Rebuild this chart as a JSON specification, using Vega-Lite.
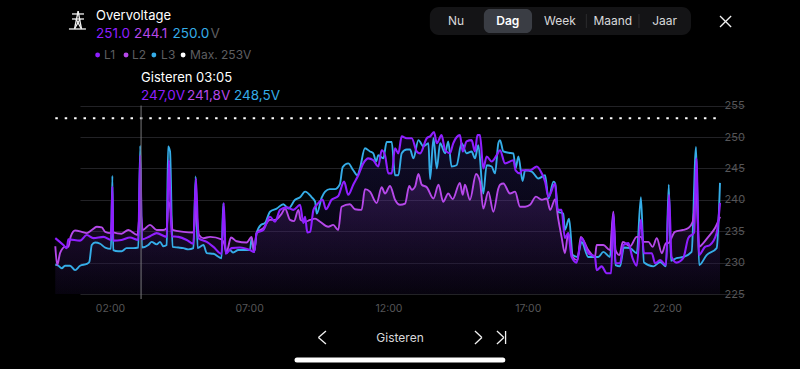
{"$schema":"https://vega.github.io/schema/vega-lite/v6.json","width":800,"height":369,"autosize":"none","padding":0,"background":"#000000",
"config":{"view":{"stroke":null},"font":"Inter","text":{"font":"Inter"}},
"datasets":{
"volts":[
{"series":"L2","hour":0,"volt":232.6},{"series":"L2","hour":0.07,"volt":229.6},{"series":"L2","hour":0.17,"volt":231.5},{"series":"L2","hour":0.35,"volt":232.5},{"series":"L2","hour":0.47,"volt":232.5},{"series":"L2","hour":0.55,"volt":234.1},{"series":"L2","hour":0.71,"volt":235.1},{"series":"L2","hour":0.95,"volt":234.9},{"series":"L2","hour":1.13,"volt":234.7},{"series":"L2","hour":1.31,"volt":235.2},{"series":"L2","hour":1.49,"volt":235.7},{"series":"L2","hour":1.67,"volt":235.6},{"series":"L2","hour":1.79,"volt":234.9},{"series":"L2","hour":2.0,"volt":234.7},{"series":"L2","hour":2.05,"volt":237.3},{"series":"L2","hour":2.08,"volt":234.8},{"series":"L2","hour":2.38,"volt":234.6},{"series":"L2","hour":2.62,"volt":235.2},{"series":"L2","hour":2.95,"volt":234.4},{"series":"L2","hour":3.05,"volt":238.4},{"series":"L2","hour":3.14,"volt":235.2},{"series":"L2","hour":3.4,"volt":236.0},{"series":"L2","hour":3.64,"volt":235.2},{"series":"L2","hour":3.88,"volt":235.2},{"series":"L2","hour":4.0,"volt":235.5},{"series":"L2","hour":4.06,"volt":239.7},{"series":"L2","hour":4.14,"volt":238.4},{"series":"L2","hour":4.21,"volt":235.2},{"series":"L2","hour":4.6,"volt":234.9},{"series":"L2","hour":4.96,"volt":234.8},{"series":"L2","hour":5.05,"volt":238.4},{"series":"L2","hour":5.16,"volt":234.4},{"series":"L2","hour":5.32,"volt":233.9},{"series":"L2","hour":5.56,"volt":234.1},{"series":"L2","hour":5.97,"volt":233.7},{"series":"L2","hour":6.06,"volt":233.1},{"series":"L2","hour":6.15,"volt":231.7},{"series":"L2","hour":6.31,"volt":234.0},{"series":"L2","hour":6.51,"volt":233.4},{"series":"L2","hour":6.87,"volt":233.2},{"series":"L2","hour":7.05,"volt":234.1},{"series":"L2","hour":7.14,"volt":231.7},{"series":"L2","hour":7.23,"volt":234.7},{"series":"L2","hour":7.47,"volt":235.5},{"series":"L2","hour":7.71,"volt":236.8},{"series":"L2","hour":7.89,"volt":236.8},{"series":"L2","hour":8.13,"volt":237.8},{"series":"L2","hour":8.25,"volt":238.6},{"series":"L2","hour":8.43,"volt":236.8},{"series":"L2","hour":8.57,"volt":236.6},{"series":"L2","hour":8.73,"volt":238.4},{"series":"L2","hour":8.81,"volt":236.8},{"series":"L2","hour":8.97,"volt":236.5},{"series":"L2","hour":9.15,"volt":236.8},{"series":"L2","hour":9.33,"volt":237.0},{"series":"L2","hour":9.51,"volt":236.5},{"series":"L2","hour":9.8,"volt":235.7},{"series":"L2","hour":9.98,"volt":236.0},{"series":"L2","hour":10.16,"volt":235.2},{"series":"L2","hour":10.28,"volt":238.9},{"series":"L2","hour":10.58,"volt":239.3},{"series":"L2","hour":10.76,"volt":238.5},{"series":"L2","hour":11.0,"volt":238.4},{"series":"L2","hour":11.12,"volt":241.7},{"series":"L2","hour":11.3,"volt":241.3},{"series":"L2","hour":11.54,"volt":239.5},{"series":"L2","hour":11.72,"volt":242.0},{"series":"L2","hour":11.84,"volt":241.0},{"series":"L2","hour":12.02,"volt":242.2},{"series":"L2","hour":12.2,"volt":240.0},{"series":"L2","hour":12.38,"volt":239.2},{"series":"L2","hour":12.56,"volt":239.4},{"series":"L2","hour":12.71,"volt":242.2},{"series":"L2","hour":12.8,"volt":241.6},{"series":"L2","hour":12.92,"volt":242.1},{"series":"L2","hour":13.04,"volt":244.1},{"series":"L2","hour":13.16,"volt":242.4},{"series":"L2","hour":13.34,"volt":242.0},{"series":"L2","hour":13.58,"volt":240.2},{"series":"L2","hour":13.76,"volt":242.4},{"series":"L2","hour":13.93,"volt":239.7},{"series":"L2","hour":14.11,"volt":241.0},{"series":"L2","hour":14.27,"volt":240.1},{"series":"L2","hour":14.53,"volt":242.7},{"series":"L2","hour":14.63,"volt":240.8},{"series":"L2","hour":14.71,"volt":242.4},{"series":"L2","hour":14.89,"volt":240.0},{"series":"L2","hour":15.11,"volt":244.1},{"series":"L2","hour":15.25,"volt":242.9},{"series":"L2","hour":15.37,"volt":238.6},{"series":"L2","hour":15.55,"volt":241.3},{"series":"L2","hour":15.73,"volt":238.1},{"series":"L2","hour":15.91,"volt":241.8},{"series":"L2","hour":15.97,"volt":242.4},{"series":"L2","hour":16.09,"volt":242.6},{"series":"L2","hour":16.33,"volt":241.0},{"series":"L2","hour":16.51,"volt":241.3},{"series":"L2","hour":16.69,"volt":238.9},{"series":"L2","hour":16.87,"volt":238.9},{"series":"L2","hour":17.05,"volt":239.2},{"series":"L2","hour":17.26,"volt":240.5},{"series":"L2","hour":17.47,"volt":240.0},{"series":"L2","hour":17.65,"volt":240.2},{"series":"L2","hour":17.77,"volt":238.4},{"series":"L2","hour":17.95,"volt":240.1},{"series":"L2","hour":18.06,"volt":237.0},{"series":"L2","hour":18.18,"volt":234.1},{"series":"L2","hour":18.3,"volt":231.5},{"series":"L2","hour":18.42,"volt":234.7},{"series":"L2","hour":18.58,"volt":230.9},{"series":"L2","hour":18.75,"volt":230.4},{"series":"L2","hour":18.87,"volt":234.1},{"series":"L2","hour":19.14,"volt":232.0},{"series":"L2","hour":19.38,"volt":230.9},{"series":"L2","hour":19.44,"volt":232.8},{"series":"L2","hour":19.68,"volt":232.8},{"series":"L2","hour":19.92,"volt":232.0},{"series":"L2","hour":20.04,"volt":238.1},{"series":"L2","hour":20.12,"volt":232.0},{"series":"L2","hour":20.26,"volt":231.2},{"series":"L2","hour":20.38,"volt":233.3},{"series":"L2","hour":20.64,"volt":232.6},{"series":"L2","hour":20.88,"volt":234.1},{"series":"L2","hour":21.03,"volt":234.1},{"series":"L2","hour":21.14,"volt":233.3},{"series":"L2","hour":21.3,"volt":233.3},{"series":"L2","hour":21.45,"volt":232.5},{"series":"L2","hour":21.6,"volt":233.9},{"series":"L2","hour":21.78,"volt":231.5},{"series":"L2","hour":21.93,"volt":233.1},{"series":"L2","hour":22.01,"volt":233.1},{"series":"L2","hour":22.25,"volt":234.9},{"series":"L2","hour":22.55,"volt":235.2},{"series":"L2","hour":22.73,"volt":235.5},{"series":"L2","hour":22.89,"volt":236.5},{"series":"L2","hour":23.02,"volt":241.0},{"series":"L2","hour":23.12,"volt":232.5},{"series":"L2","hour":23.27,"volt":233.1},{"series":"L2","hour":23.45,"volt":234.1},{"series":"L2","hour":23.69,"volt":235.5},{"series":"L2","hour":23.87,"volt":237.3},
{"series":"L3","hour":0,"volt":229.7},{"series":"L3","hour":0.11,"volt":229.5},{"series":"L3","hour":0.23,"volt":229.1},{"series":"L3","hour":0.35,"volt":229.5},{"series":"L3","hour":0.53,"volt":229.5},{"series":"L3","hour":0.71,"volt":228.8},{"series":"L3","hour":0.89,"volt":229.5},{"series":"L3","hour":1.13,"volt":229.8},{"series":"L3","hour":1.22,"volt":230.1},{"series":"L3","hour":1.31,"volt":232.8},{"series":"L3","hour":1.43,"volt":233.2},{"series":"L3","hour":1.61,"volt":233.0},{"series":"L3","hour":1.79,"volt":232.4},{"series":"L3","hour":2.0,"volt":232.2},{"series":"L3","hour":2.05,"volt":243.8},{"series":"L3","hour":2.08,"volt":232.0},{"series":"L3","hour":2.26,"volt":231.8},{"series":"L3","hour":2.38,"volt":231.8},{"series":"L3","hour":2.56,"volt":232.3},{"series":"L3","hour":2.8,"volt":232.3},{"series":"L3","hour":2.98,"volt":232.4},{"series":"L3","hour":3.05,"volt":248.6},{"series":"L3","hour":3.11,"volt":232.4},{"series":"L3","hour":3.34,"volt":232.8},{"series":"L3","hour":3.46,"volt":233.3},{"series":"L3","hour":3.64,"volt":232.9},{"series":"L3","hour":3.76,"volt":233.3},{"series":"L3","hour":3.88,"volt":232.6},{"series":"L3","hour":4.0,"volt":232.8},{"series":"L3","hour":4.05,"volt":248.5},{"series":"L3","hour":4.12,"volt":247.7},{"series":"L3","hour":4.21,"volt":232.5},{"series":"L3","hour":4.42,"volt":232.4},{"series":"L3","hour":4.6,"volt":232.3},{"series":"L3","hour":4.78,"volt":232.1},{"series":"L3","hour":4.96,"volt":232.3},{"series":"L3","hour":5.04,"volt":243.7},{"series":"L3","hour":5.11,"volt":232.3},{"series":"L3","hour":5.32,"volt":232.8},{"series":"L3","hour":5.44,"volt":231.5},{"series":"L3","hour":5.68,"volt":231.4},{"series":"L3","hour":5.97,"volt":230.7},{"series":"L3","hour":6.03,"volt":239.4},{"series":"L3","hour":6.12,"volt":231.5},{"series":"L3","hour":6.27,"volt":232.0},{"series":"L3","hour":6.39,"volt":231.6},{"series":"L3","hour":6.57,"volt":232.0},{"series":"L3","hour":6.87,"volt":232.0},{"series":"L3","hour":6.99,"volt":232.0},{"series":"L3","hour":7.05,"volt":233.9},{"series":"L3","hour":7.14,"volt":231.7},{"series":"L3","hour":7.23,"volt":234.7},{"series":"L3","hour":7.38,"volt":236.0},{"series":"L3","hour":7.53,"volt":236.3},{"series":"L3","hour":7.71,"volt":238.1},{"series":"L3","hour":7.95,"volt":238.6},{"series":"L3","hour":8.19,"volt":239.3},{"series":"L3","hour":8.37,"volt":238.6},{"series":"L3","hour":8.61,"volt":240.0},{"series":"L3","hour":8.79,"volt":240.4},{"series":"L3","hour":8.97,"volt":241.3},{"series":"L3","hour":9.21,"volt":240.4},{"series":"L3","hour":9.33,"volt":239.7},{"series":"L3","hour":9.39,"volt":237.8},{"series":"L3","hour":9.57,"volt":240.4},{"series":"L3","hour":9.69,"volt":241.3},{"series":"L3","hour":9.86,"volt":241.7},{"series":"L3","hour":10.04,"volt":241.7},{"series":"L3","hour":10.22,"volt":242.5},{"series":"L3","hour":10.32,"volt":245.2},{"series":"L3","hour":10.52,"volt":245.8},{"series":"L3","hour":10.7,"volt":244.7},{"series":"L3","hour":10.85,"volt":243.9},{"series":"L3","hour":10.94,"volt":245.0},{"series":"L3","hour":11.12,"volt":248.2},{"series":"L3","hour":11.3,"volt":247.7},{"series":"L3","hour":11.42,"volt":247.4},{"series":"L3","hour":11.52,"volt":246.1},{"series":"L3","hour":11.6,"volt":247.1},{"series":"L3","hour":11.78,"volt":246.6},{"series":"L3","hour":11.9,"volt":249.2},{"series":"L3","hour":12.08,"volt":249.2},{"series":"L3","hour":12.2,"volt":243.9},{"series":"L3","hour":12.32,"volt":243.9},{"series":"L3","hour":12.44,"volt":247.4},{"series":"L3","hour":12.62,"volt":248.0},{"series":"L3","hour":12.74,"volt":248.0},{"series":"L3","hour":12.86,"volt":246.6},{"series":"L3","hour":13.04,"volt":249.5},{"series":"L3","hour":13.22,"volt":248.5},{"series":"L3","hour":13.4,"volt":249.0},{"series":"L3","hour":13.46,"volt":243.3},{"series":"L3","hour":13.58,"volt":249.8},{"series":"L3","hour":13.7,"volt":245.0},{"series":"L3","hour":13.82,"volt":249.0},{"series":"L3","hour":14.0,"volt":247.4},{"series":"L3","hour":14.11,"volt":249.3},{"series":"L3","hour":14.23,"volt":245.3},{"series":"L3","hour":14.41,"volt":245.5},{"series":"L3","hour":14.59,"volt":249.0},{"series":"L3","hour":14.77,"volt":247.4},{"series":"L3","hour":14.95,"volt":247.7},{"series":"L3","hour":15.07,"volt":246.6},{"series":"L3","hour":15.19,"volt":248.7},{"series":"L3","hour":15.37,"volt":241.0},{"series":"L3","hour":15.49,"volt":245.5},{"series":"L3","hour":15.67,"volt":245.3},{"series":"L3","hour":15.79,"volt":244.2},{"series":"L3","hour":15.91,"volt":249.0},{"series":"L3","hour":15.97,"volt":249.5},{"series":"L3","hour":16.09,"volt":247.7},{"series":"L3","hour":16.27,"volt":247.5},{"series":"L3","hour":16.45,"volt":247.4},{"series":"L3","hour":16.53,"volt":245.0},{"series":"L3","hour":16.63,"volt":246.9},{"series":"L3","hour":16.78,"volt":243.0},{"series":"L3","hour":16.87,"volt":244.7},{"series":"L3","hour":17.11,"volt":244.5},{"series":"L3","hour":17.35,"volt":243.4},{"series":"L3","hour":17.59,"volt":243.9},{"series":"L3","hour":17.71,"volt":240.2},{"series":"L3","hour":17.89,"volt":242.9},{"series":"L3","hour":17.95,"volt":242.6},{"series":"L3","hour":18.06,"volt":238.1},{"series":"L3","hour":18.24,"volt":237.8},{"series":"L3","hour":18.3,"volt":235.2},{"series":"L3","hour":18.45,"volt":237.0},{"series":"L3","hour":18.58,"volt":231.2},{"series":"L3","hour":18.75,"volt":230.9},{"series":"L3","hour":18.9,"volt":233.3},{"series":"L3","hour":19.14,"volt":230.9},{"series":"L3","hour":19.5,"volt":230.9},{"series":"L3","hour":19.68,"volt":231.7},{"series":"L3","hour":19.92,"volt":230.9},{"series":"L3","hour":20.04,"volt":237.6},{"series":"L3","hour":20.12,"volt":229.6},{"series":"L3","hour":20.28,"volt":229.4},{"series":"L3","hour":20.42,"volt":232.4},{"series":"L3","hour":20.64,"volt":232.3},{"series":"L3","hour":20.88,"volt":231.5},{"series":"L3","hour":21.03,"volt":240.4},{"series":"L3","hour":21.14,"volt":230.0},{"series":"L3","hour":21.48,"volt":229.4},{"series":"L3","hour":21.72,"volt":230.1},{"series":"L3","hour":21.93,"volt":229.4},{"series":"L3","hour":22.03,"volt":242.4},{"series":"L3","hour":22.11,"volt":230.3},{"series":"L3","hour":22.31,"volt":230.7},{"series":"L3","hour":22.55,"volt":230.9},{"series":"L3","hour":22.85,"volt":231.7},{"series":"L3","hour":23.01,"volt":248.4},{"series":"L3","hour":23.12,"volt":229.6},{"series":"L3","hour":23.39,"volt":231.2},{"series":"L3","hour":23.75,"volt":232.3},{"series":"L3","hour":23.87,"volt":242.7},
{"series":"L1","hour":0,"volt":233.9},{"series":"L1","hour":0.29,"volt":232.8},{"series":"L1","hour":0.41,"volt":232.3},{"series":"L1","hour":0.47,"volt":233.7},{"series":"L1","hour":0.89,"volt":233.5},{"series":"L1","hour":1.13,"volt":234.4},{"series":"L1","hour":1.37,"volt":233.9},{"series":"L1","hour":1.73,"volt":234.1},{"series":"L1","hour":2.0,"volt":233.6},{"series":"L1","hour":2.05,"volt":242.1},{"series":"L1","hour":2.08,"volt":233.5},{"series":"L1","hour":2.38,"volt":233.6},{"series":"L1","hour":2.68,"volt":234.0},{"series":"L1","hour":2.98,"volt":233.6},{"series":"L1","hour":3.05,"volt":247.1},{"series":"L1","hour":3.11,"volt":233.7},{"series":"L1","hour":3.4,"volt":234.2},{"series":"L1","hour":3.64,"volt":234.7},{"series":"L1","hour":4.0,"volt":234.1},{"series":"L1","hour":4.08,"volt":246.3},{"series":"L1","hour":4.18,"volt":234.2},{"series":"L1","hour":4.42,"volt":234.1},{"series":"L1","hour":4.72,"volt":233.6},{"series":"L1","hour":4.96,"volt":233.0},{"series":"L1","hour":5.05,"volt":243.4},{"series":"L1","hour":5.14,"volt":233.9},{"series":"L1","hour":5.44,"volt":233.3},{"series":"L1","hour":5.68,"volt":232.5},{"series":"L1","hour":5.97,"volt":231.4},{"series":"L1","hour":6.05,"volt":239.5},{"series":"L1","hour":6.12,"volt":231.4},{"series":"L1","hour":6.33,"volt":232.3},{"series":"L1","hour":6.63,"volt":232.4},{"series":"L1","hour":6.99,"volt":232.0},{"series":"L1","hour":7.14,"volt":231.7},{"series":"L1","hour":7.23,"volt":234.7},{"series":"L1","hour":7.47,"volt":235.2},{"series":"L1","hour":7.71,"volt":237.3},{"series":"L1","hour":7.89,"volt":236.5},{"series":"L1","hour":8.07,"volt":238.4},{"series":"L1","hour":8.31,"volt":238.8},{"series":"L1","hour":8.55,"volt":238.4},{"series":"L1","hour":8.79,"volt":239.2},{"series":"L1","hour":8.91,"volt":236.3},{"series":"L1","hour":8.97,"volt":237.3},{"series":"L1","hour":9.05,"volt":234.8},{"series":"L1","hour":9.15,"volt":234.9},{"series":"L1","hour":9.27,"volt":238.4},{"series":"L1","hour":9.39,"volt":239.2},{"series":"L1","hour":9.6,"volt":240.0},{"series":"L1","hour":9.72,"volt":238.5},{"series":"L1","hour":9.92,"volt":240.0},{"series":"L1","hour":10.16,"volt":240.6},{"series":"L1","hour":10.37,"volt":242.9},{"series":"L1","hour":10.52,"volt":240.8},{"series":"L1","hour":10.7,"volt":242.4},{"series":"L1","hour":10.88,"volt":243.9},{"series":"L1","hour":11.06,"volt":245.8},{"series":"L1","hour":11.24,"volt":246.6},{"series":"L1","hour":11.42,"volt":246.3},{"series":"L1","hour":11.6,"volt":245.3},{"series":"L1","hour":11.72,"volt":247.9},{"series":"L1","hour":11.84,"volt":247.1},{"series":"L1","hour":11.96,"volt":244.2},{"series":"L1","hour":12.08,"volt":244.2},{"series":"L1","hour":12.2,"volt":248.2},{"series":"L1","hour":12.32,"volt":247.4},{"series":"L1","hour":12.44,"volt":250.1},{"series":"L1","hour":12.62,"volt":249.8},{"series":"L1","hour":12.8,"volt":249.8},{"series":"L1","hour":12.98,"volt":247.7},{"series":"L1","hour":13.1,"volt":247.4},{"series":"L1","hour":13.34,"volt":249.8},{"series":"L1","hour":13.46,"volt":250.1},{"series":"L1","hour":13.6,"volt":250.8},{"series":"L1","hour":13.7,"volt":249.0},{"series":"L1","hour":13.87,"volt":250.3},{"series":"L1","hour":14.0,"volt":247.9},{"series":"L1","hour":14.17,"volt":247.4},{"series":"L1","hour":14.29,"volt":249.0},{"series":"L1","hour":14.53,"volt":250.3},{"series":"L1","hour":14.63,"volt":247.7},{"series":"L1","hour":14.77,"volt":249.3},{"series":"L1","hour":14.95,"volt":249.5},{"series":"L1","hour":15.07,"volt":247.7},{"series":"L1","hour":15.16,"volt":250.3},{"series":"L1","hour":15.25,"volt":250.3},{"series":"L1","hour":15.37,"volt":245.0},{"series":"L1","hour":15.49,"volt":246.9},{"series":"L1","hour":15.67,"volt":246.1},{"series":"L1","hour":15.85,"volt":247.1},{"series":"L1","hour":15.97,"volt":247.9},{"series":"L1","hour":16.15,"volt":245.8},{"series":"L1","hour":16.45,"volt":246.3},{"series":"L1","hour":16.53,"volt":244.7},{"series":"L1","hour":16.69,"volt":244.2},{"series":"L1","hour":16.75,"volt":244.7},{"series":"L1","hour":17.05,"volt":244.7},{"series":"L1","hour":17.29,"volt":245.3},{"series":"L1","hour":17.47,"volt":244.2},{"series":"L1","hour":17.59,"volt":242.9},{"series":"L1","hour":17.71,"volt":240.5},{"series":"L1","hour":17.95,"volt":242.6},{"series":"L1","hour":18.03,"volt":238.4},{"series":"L1","hour":18.18,"volt":238.4},{"series":"L1","hour":18.3,"volt":233.9},{"series":"L1","hour":18.42,"volt":234.7},{"series":"L1","hour":18.54,"volt":230.9},{"series":"L1","hour":18.72,"volt":230.0},{"series":"L1","hour":18.9,"volt":233.9},{"series":"L1","hour":19.14,"volt":231.5},{"series":"L1","hour":19.38,"volt":230.9},{"series":"L1","hour":19.44,"volt":228.8},{"series":"L1","hour":19.62,"volt":229.4},{"series":"L1","hour":19.8,"volt":228.3},{"series":"L1","hour":19.96,"volt":228.3},{"series":"L1","hour":20.04,"volt":237.8},{"series":"L1","hour":20.12,"volt":229.9},{"series":"L1","hour":20.28,"volt":229.9},{"series":"L1","hour":20.4,"volt":232.8},{"series":"L1","hour":20.58,"volt":233.1},{"series":"L1","hour":20.73,"volt":230.7},{"series":"L1","hour":20.88,"volt":229.5},{"series":"L1","hour":21.03,"volt":236.8},{"series":"L1","hour":21.14,"volt":231.5},{"series":"L1","hour":21.42,"volt":231.5},{"series":"L1","hour":21.54,"volt":229.9},{"series":"L1","hour":21.72,"volt":230.4},{"series":"L1","hour":21.93,"volt":229.6},{"series":"L1","hour":22.04,"volt":240.8},{"series":"L1","hour":22.13,"volt":230.9},{"series":"L1","hour":22.31,"volt":230.0},{"series":"L1","hour":22.55,"volt":230.7},{"series":"L1","hour":22.73,"volt":233.9},{"series":"L1","hour":22.94,"volt":234.8},{"series":"L1","hour":23.02,"volt":246.6},{"series":"L1","hour":23.12,"volt":231.2},{"series":"L1","hour":23.33,"volt":232.5},{"series":"L1","hour":23.51,"volt":232.8},{"series":"L1","hour":23.75,"volt":234.7},{"series":"L1","hour":23.87,"volt":239.5}
],
"texts":[
{"role":"head","tone":"white","hour":1.46,"volt":269.27,"label":"Overvoltage"},
{"role":"now","tone":"L1","hour":1.46,"volt":266.4,"label":"251.0"},
{"role":"now","tone":"L2","hour":2.83,"volt":266.4,"label":"244.1"},
{"role":"now","tone":"L3","hour":4.21,"volt":266.4,"label":"250.0"},
{"role":"now","tone":"muted","hour":5.57,"volt":266.4,"label":"V"},
{"role":"key","tone":"muted","hour":1.75,"volt":263.06,"label":"L1"},
{"role":"key","tone":"muted","hour":2.75,"volt":263.06,"label":"L2"},
{"role":"key","tone":"muted","hour":3.8,"volt":263.06,"label":"L3"},
{"role":"key","tone":"muted","hour":4.84,"volt":263.06,"label":"Max. 253V"},
{"role":"head","tone":"white","hour":3.08,"volt":259.39,"label":"Gisteren 03:05"},
{"role":"now","tone":"L1","hour":3.08,"volt":256.53,"label":"247,0V"},
{"role":"now","tone":"L2","hour":4.73,"volt":256.53,"label":"241,8V"},
{"role":"now","tone":"L3","hour":6.42,"volt":256.53,"label":"248,5V"}
],
"centered":[
{"role":"tab","tone":"soft","hour":14.39,"volt":268.47,"label":"Nu"},
{"role":"active","tone":"white","hour":16.25,"volt":268.47,"label":"Dag"},
{"role":"tab","tone":"soft","hour":18.12,"volt":268.47,"label":"Week"},
{"role":"tab","tone":"soft","hour":20.02,"volt":268.47,"label":"Maand"},
{"role":"tab","tone":"soft","hour":21.88,"volt":268.47,"label":"Jaar"},
{"role":"tab","tone":"soft","hour":12.38,"volt":217.99,"label":"Gisteren"}
],
"dots":[
{"tone":"L1","hour":1.52,"volt":263.06},{"tone":"L2","hour":2.54,"volt":263.06},{"tone":"L3","hour":3.54,"volt":263.06},{"tone":"white","hour":4.59,"volt":263.06}
],
"strokes":[
{"hour":23.87,"volt":269.27,"hour2":24.27,"volt2":267.52},{"hour":24.27,"volt":269.27,"hour2":23.87,"volt2":267.52},
{"hour":9.72,"volt":219.11,"hour2":9.45,"volt2":218.07},{"hour":9.45,"volt":218.07,"hour2":9.72,"volt2":217.04},
{"hour":15.07,"volt":219.11,"hour2":15.32,"volt2":218.07},{"hour":15.32,"volt":218.07,"hour2":15.07,"volt2":217.04},
{"hour":15.86,"volt":219.11,"hour2":16.11,"volt2":218.07},{"hour":16.11,"volt":218.07,"hour2":15.86,"volt2":217.04},{"hour":16.17,"volt":219.11,"hour2":16.17,"volt2":217.04},
{"hour":0.49,"volt":267.2,"hour2":1.1,"volt2":267.2},{"hour":0.6,"volt":269.59,"hour2":1.03,"volt2":269.59},{"hour":0.6,"volt":268.79,"hour2":1.03,"volt2":268.79},
{"hour":0.82,"volt":270.06,"hour2":0.69,"volt2":267.2},{"hour":0.82,"volt":270.06,"hour2":0.94,"volt2":267.2},{"hour":0.69,"volt":267.2,"hour2":0.89,"volt2":268.79},{"hour":0.94,"volt":267.2,"hour2":0.74,"volt2":268.79}
],
"separators":[
{"hour":19.07,"volt":269.59,"hour2":19.07,"volt2":267.36},{"hour":20.96,"volt":269.59,"hour2":20.96,"volt2":267.36}
]
},
"layer":[
{"data":{"values":[{"hour":13.45,"volt":270.7,"hour2":22.83,"volt2":266.24}]},"mark":{"type":"rect","color":"#141416","cornerRadius":9},"encoding":{"x":{"field":"hour","type":"quantitative","scale":{"domain":[0,23.87],"range":[55.3,720],"nice":false,"zero":false},"axis":{"orient":"bottom","offset":-69,"values":[2,7,12,17,22],"grid":false,"domain":false,"ticks":false,"labelExpr":"(datum.value<10?'0':'')+datum.value+':00'","labelColor":"#565658","labelFontSize":10.5,"labelOffset":-1,"labelPadding":3,"labelFont":"Inter","title":null}},"x2":{"field":"hour2"},"y":{"field":"volt","type":"quantitative","scale":{"domain":[225,255],"range":[294,105.6],"nice":false,"zero":false},"axis":{"orient":"right","offset":-80,"values":[225,230,235,240,245,250,255],"grid":true,"gridColor":"#222226","gridWidth":1,"domain":false,"ticks":false,"labelColor":"#565658","labelFontSize":11,"labelPadding":4,"labelFont":"Inter","title":null}},"y2":{"field":"volt2"}}},
{"data":{"values":[{"hour":15.39,"volt":270.38,"hour2":17.12,"volt2":266.56}]},"mark":{"type":"rect","color":"#3a3d44","cornerRadius":6},"encoding":{"x":{"field":"hour","type":"quantitative"},"x2":{"field":"hour2"},"y":{"field":"volt","type":"quantitative"},"y2":{"field":"volt2"}}},
{"data":{"name":"separators"},"mark":{"type":"rule","color":"#2c2c2e","strokeWidth":1},"encoding":{"x":{"field":"hour","type":"quantitative"},"x2":{"field":"hour2"},"y":{"field":"volt","type":"quantitative"},"y2":{"field":"volt2"}}},
{"data":{"name":"volts"},"transform":[{"filter":"datum.series==='L3'"}],"mark":{"type":"area","interpolate":"monotone","opacity":0.06,"color":{"gradient":"linear","x1":0,"y1":0,"x2":0,"y2":1,"stops":[{"offset":0,"color":"#1e9ad6"},{"offset":1,"color":"#000000"}]}},"encoding":{"x":{"field":"hour","type":"quantitative"},"y":{"field":"volt","type":"quantitative","stack":null}}},
{"data":{"name":"volts"},"transform":[{"filter":"datum.series==='L1'"}],"mark":{"type":"area","interpolate":"monotone","opacity":0.14,"color":{"gradient":"linear","x1":0,"y1":0,"x2":0,"y2":1,"stops":[{"offset":0,"color":"#6a22e0"},{"offset":1,"color":"#100828"}]}},"encoding":{"x":{"field":"hour","type":"quantitative"},"y":{"field":"volt","type":"quantitative","stack":null}}},
{"data":{"name":"volts"},"transform":[{"filter":"datum.series==='L2'"}],"mark":{"type":"area","interpolate":"monotone","opacity":0.26,"color":{"gradient":"linear","x1":0,"y1":0,"x2":0,"y2":1,"stops":[{"offset":0,"color":"#8038b8"},{"offset":1,"color":"#140a28"}]}},"encoding":{"x":{"field":"hour","type":"quantitative"},"y":{"field":"volt","type":"quantitative","stack":null}}},
{"data":{"name":"volts"},"transform":[{"filter":"datum.series==='L3'"}],"mark":{"type":"line","interpolate":"monotone","strokeWidth":1.9},"encoding":{"x":{"field":"hour","type":"quantitative"},"y":{"field":"volt","type":"quantitative"},"color":{"field":"series","type":"nominal","legend":null,"scale":{"domain":["L1","L2","L3","white","muted","soft"],"range":["#8f1fff","#b648ea","#35ade8","#ffffff","#5e5e60","#d8d8da"]}}}},
{"data":{"name":"volts"},"transform":[{"filter":"datum.series==='L2'"}],"mark":{"type":"line","interpolate":"monotone","strokeWidth":1.9},"encoding":{"x":{"field":"hour","type":"quantitative"},"y":{"field":"volt","type":"quantitative"},"color":{"field":"series","type":"nominal","legend":null}}},
{"data":{"name":"volts"},"transform":[{"filter":"datum.series==='L1'"}],"mark":{"type":"line","interpolate":"monotone","strokeWidth":2.1},"encoding":{"x":{"field":"hour","type":"quantitative"},"y":{"field":"volt","type":"quantitative"},"color":{"field":"series","type":"nominal","legend":null}}},
{"data":{"values":[{"hour":0,"volt":253,"hour2":23.87,"volt2":253}]},"mark":{"type":"rule","color":"#ffffff","strokeWidth":2,"strokeDash":[2.5,6.9]},"encoding":{"x":{"field":"hour","type":"quantitative"},"x2":{"field":"hour2"},"y":{"field":"volt","type":"quantitative"},"y2":{"field":"volt2"}}},
{"data":{"values":[{"hour":3.08,"volt":255,"hour2":3.08,"volt2":224.2}]},"mark":{"type":"rule","color":"#77777a","strokeWidth":1},"encoding":{"x":{"field":"hour","type":"quantitative"},"x2":{"field":"hour2"},"y":{"field":"volt","type":"quantitative"},"y2":{"field":"volt2"}}},
{"data":{"name":"strokes"},"mark":{"type":"rule","color":"#f2f2f2","strokeWidth":1.3},"encoding":{"x":{"field":"hour","type":"quantitative"},"x2":{"field":"hour2"},"y":{"field":"volt","type":"quantitative"},"y2":{"field":"volt2"}}},
{"data":{"values":[{"hour":8.68,"volt":214.49,"hour2":16.07,"volt2":214.49}]},"mark":{"type":"rule","color":"#ffffff","strokeWidth":5,"strokeCap":"round"},"encoding":{"x":{"field":"hour","type":"quantitative"},"x2":{"field":"hour2"},"y":{"field":"volt","type":"quantitative"},"y2":{"field":"volt2"}}},
{"data":{"name":"dots"},"mark":{"type":"point","filled":true,"opacity":1,"size":24},"encoding":{"x":{"field":"hour","type":"quantitative"},"y":{"field":"volt","type":"quantitative"},"color":{"field":"tone","type":"nominal","legend":null}}},
{"data":{"name":"texts"},"transform":[{"filter":"datum.role==='head'"}],"mark":{"type":"text","align":"left","baseline":"middle","fontSize":13},"encoding":{"x":{"field":"hour","type":"quantitative"},"y":{"field":"volt","type":"quantitative"},"text":{"field":"label"},"color":{"field":"tone","type":"nominal","legend":null}}},
{"data":{"name":"texts"},"transform":[{"filter":"datum.role==='now'"}],"mark":{"type":"text","align":"left","baseline":"middle","fontSize":13.5,"fontWeight":400},"encoding":{"x":{"field":"hour","type":"quantitative"},"y":{"field":"volt","type":"quantitative"},"text":{"field":"label"},"color":{"field":"tone","type":"nominal","legend":null}}},
{"data":{"name":"texts"},"transform":[{"filter":"datum.role==='key'"}],"mark":{"type":"text","align":"left","baseline":"middle","fontSize":12},"encoding":{"x":{"field":"hour","type":"quantitative"},"y":{"field":"volt","type":"quantitative"},"text":{"field":"label"},"color":{"field":"tone","type":"nominal","legend":null}}},
{"data":{"name":"centered"},"transform":[{"filter":"datum.role==='tab'"}],"mark":{"type":"text","align":"center","baseline":"middle","fontSize":12},"encoding":{"x":{"field":"hour","type":"quantitative"},"y":{"field":"volt","type":"quantitative"},"text":{"field":"label"},"color":{"field":"tone","type":"nominal","legend":null}}},
{"data":{"name":"centered"},"transform":[{"filter":"datum.role==='active'"}],"mark":{"type":"text","align":"center","baseline":"middle","fontSize":12,"fontWeight":600},"encoding":{"x":{"field":"hour","type":"quantitative"},"y":{"field":"volt","type":"quantitative"},"text":{"field":"label"},"color":{"field":"tone","type":"nominal","legend":null}}}
]}
